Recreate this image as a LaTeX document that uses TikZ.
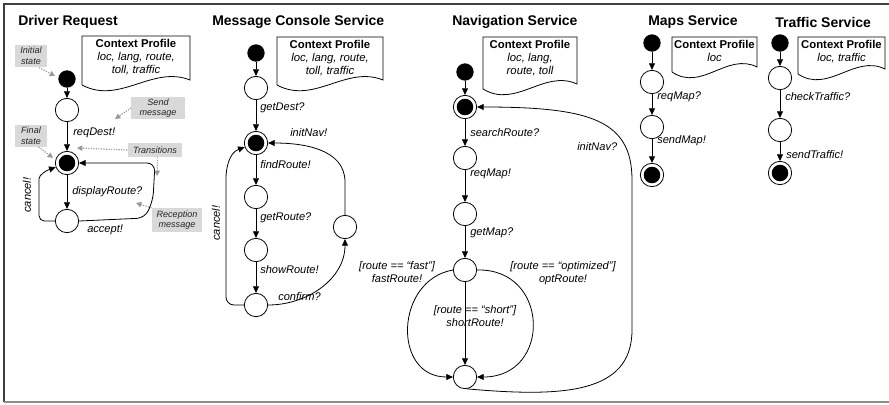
\documentclass[tikz,border=0pt]{standalone}
\usepackage{fontspec}
\setmainfont{Liberation Sans}
\usetikzlibrary{arrows.meta, positioning}

\tikzset{
  state/.style={circle, draw, line width=0.6pt, minimum size=17.5pt, inner sep=0pt},
  initdot/.style={circle, fill=black, minimum size=13pt, inner sep=0pt},
  finalst/.style={circle, draw, line width=0.6pt, minimum size=17.5pt, inner sep=0pt,
    path picture={\fill (path picture bounding box.center) circle (6.2pt);}},
  trans/.style={-{Triangle[length=5pt,width=4.5pt]}, line width=0.6pt},
  lbl/.style={font=\fontsize{8.3}{9.75}\selectfont\itshape, inner sep=0pt, anchor=west},
  guard/.style={font=\fontsize{8.3}{9.75}\selectfont\itshape, inner sep=0pt, align=center},
  title/.style={font=\fontsize{10.5}{12}\selectfont\bfseries, inner sep=0pt, anchor=west},
  doctext/.style={font=\fontsize{8.5}{10}\selectfont\itshape, inner sep=2pt, align=center, anchor=north},
  note/.style={fill=black!15, text=black!85, font=\fontsize{6.8}{8}\selectfont\itshape,
    align=center, inner sep=1pt},
  pointer/.style={densely dotted, black!40, line width=0.9pt, -{Triangle[length=4pt,width=4pt]}}
}

% context profile sheet: name, left, top, right, bottom, entries
\newcommand\profiledoc[6]{%
  \draw[line width=0.6pt] (#2,#5) -- (#2,#3) -- (#4,#3) -- (#4,#5-5)
    .. controls ({#4-0.35*(#4-#2)},#5-20) and ({#2+0.35*(#4-#2)},#5+20) .. (#2,#5);
  \node[doctext] (#1) at ({(#2+#4)/2},#3) {{\upshape\bfseries Context Profile}\\#6};}

\begin{document}
\begin{tikzpicture}[x=0.75pt, y=-0.75pt]
  \useasboundingbox (0,0) rectangle (889,404);
  % Frame
  \draw[black!75, line width=1.5pt] (889,4) -- (4,4) -- (4,402);
  \draw[black!45, line width=1.2pt] (4,402) -- (889,402);

  % Driver Request
  \node[title] (titleD) at (18,22) {Driver Request};
  \profiledoc{profD}{82}{36}{190}{85}{loc, lang, route,\\toll, traffic}
  \node[initdot] (dInit) at (67,79) {};
  \node[state] (dS1) at (67,110) {};
  \node[finalst] (dFin) at (67,163) {};
  \node[state] (dS2) at (67,221) {};
  \draw[trans] (dInit) -- (dS1);
  \draw[trans] (dS1) -- (dFin);
  \draw[trans] (dFin) -- (dS2);
  \draw[trans, rounded corners=4pt] (dS2.west) -- (39,221) -- (39,184) to[out=90,in=200] (dFin.200);
  \draw[trans, rounded corners=6pt] (dS2.east) -- (145,218) -- (153,200) -- (155,163) -- (dFin.east);
  \node[lbl] (lReqDest) at (73,133) {reqDest!};
  \node[lbl] (lDisplay) at (72,192) {displayRoute?};
  \node[lbl] (lAccept) at (87,230) {accept!};
  \node[lbl, rotate=90, anchor=center] (lCancelD) at (27,195) {cancel!};
  % notes
  \node[note, minimum width=24pt, minimum height=17pt] (annInit) at (31,56) {Initial\\state};
  \node[note, minimum width=40pt, minimum height=17pt] (annSend) at (158,108) {Send\\message};
  \node[note, minimum width=24pt, minimum height=16pt] (annFinal) at (31,136) {Final\\state};
  \node[note, minimum width=41pt, minimum height=10.5pt] (annTrans) at (155,150) {Transitions};
  \node[note, minimum width=38pt, minimum height=18pt] (annRecv) at (177,220) {Reception\\message};
  \coordinate (pInit) at (55,76);
  \coordinate (pSend) at (115,119);
  \coordinate (pFinal) at (53,158);
  \coordinate (pTrans) at (77,148);
  \coordinate (pLoop) at (157,176);
  \coordinate (pRecv) at (136,203);
  \draw[pointer] (annInit.-55) -- (pInit);
  \draw[pointer] (annSend.west) -- (pSend);
  \draw[pointer] (annFinal.-55) -- (pFinal);
  \draw[pointer] (annTrans.west) -- (pTrans);
  \draw[pointer] (annTrans.-70) -- (pLoop);
  \draw[pointer] (annRecv.north west) -- (pRecv);

  % Message Console Service
  \node[title] (titleC) at (212,22) {Message Console Service};
  \profiledoc{profC}{277}{37}{383}{85}{loc, lang, route,\\toll, traffic}
  \node[initdot] (cInit) at (256,53) {};
  \node[state] (cS1) at (256,88) {};
  \node[finalst] (cFin) at (256,143) {};
  \node[state] (cS2) at (256,197) {};
  \node[state] (cS3) at (256,250) {};
  \node[state] (cS4) at (256,305) {};
  \node[state] (cS5) at (345,227) {};
  \draw[trans] (cInit) -- (cS1);
  \draw[trans] (cS1) -- (cFin);
  \draw[trans] (cFin) -- (cS2);
  \draw[trans] (cS2) -- (cS3);
  \draw[trans] (cS3) -- (cS4);
  \draw[trans, rounded corners=6pt] (cS4.west) -- (226,305) -- (226,186) to[out=90,in=200] (cFin.200);
  \draw[trans] (cS4.east) to[out=0,in=270] (cS5.south);
  \draw[trans] (cS5.north) -- (345,182) to[out=90,in=0] (cFin.east);
  \node[lbl] (lGetDest) at (260,108) {getDest?};
  \node[lbl] (lInitNavC) at (290,133) {initNav!};
  \node[lbl] (lFind) at (260,165) {findRoute!};
  \node[lbl] (lGetRoute) at (260,218) {getRoute?};
  \node[lbl] (lShow) at (260,270) {showRoute!};
  \node[lbl] (lConfirm) at (278,297) {confirm?};
  \node[lbl, rotate=90, anchor=center] (lCancelC) at (216,223) {cancel!};

  % Navigation Service
  \node[title] (titleN) at (452,22) {Navigation Service};
  \profiledoc{profN}{483}{37}{577}{89}{loc, lang,\\route, toll}
  \node[initdot] (nInit) at (465,72) {};
  \node[finalst] (nFin) at (465,107) {};
  \node[state] (nS1) at (465,158) {};
  \node[state] (nS2) at (465,214) {};
  \node[state] (nS3) at (465,270) {};
  \node[state] (nS4) at (465,377) {};
  \draw[trans] (nInit) -- (nFin);
  \draw[trans] (nFin) -- (nS1);
  \draw[trans] (nS1) -- (nS2);
  \draw[trans] (nS2) -- (nS3);
  \draw[trans] (nS3) -- (nS4);
  \draw[trans] (nS3.west) .. controls (395,280) and (392,377) .. (nS4.west);
  \draw[trans] (nS3.east) .. controls (550,268) and (552,377) .. (nS4.east);
  \draw[trans] (nS4.280) .. controls (560,397) and (632,395) .. (632,330) -- (632,180)
    .. controls (632,120) and (590,107) .. (nFin.east);
  \node[lbl] (lSearch) at (470,133) {searchRoute?};
  \node[lbl] (lReqMapN) at (470,174) {reqMap!};
  \node[lbl] (lGetMap) at (470,233) {getMap?};
  \node[lbl] (lInitNavN) at (577,147) {initNav?};
  \node[guard] (gFast) at (397,272) {[route == ``fast'']\\fastRoute!};
  \node[guard] (gShort) at (475,316) {[route == ``short'']\\shortRoute!};
  \node[guard] (gOpt) at (563,273) {[route == ``optimized'']\\optRoute!};

  % Maps Service
  \node[title] (titleM) at (648,22) {Maps Service};
  \profiledoc{profM}{672}{37}{757}{72}{loc}
  \node[initdot] (mInit) at (652,43) {};
  \node[state] (mS1) at (652,82) {};
  \node[state] (mS2) at (652,127) {};
  \node[finalst] (mFin) at (652,175) {};
  \draw[trans] (mInit) -- (mS1);
  \draw[trans] (mS1) -- (mS2);
  \draw[trans] (mS2) -- (mFin);
  \node[lbl] (lReqMapM) at (657,97) {reqMap?};
  \node[lbl] (lSendMap) at (657,141) {sendMap!};

  % Traffic Service
  \node[title] (titleT) at (775,22) {Traffic Service};
  \profiledoc{profT}{798}{37}{885}{74}{loc, traffic}
  \node[initdot] (tInit) at (780,43) {};
  \node[state] (tS1) at (780,78) {};
  \node[state] (tS2) at (780,130) {};
  \node[finalst] (tFin) at (780,173) {};
  \draw[trans] (tInit) -- (tS1);
  \draw[trans] (tS1) -- (tS2);
  \draw[trans] (tS2) -- (tFin);
  \node[lbl] (lCheck) at (785,97) {checkTraffic?};
  \node[lbl] (lSendTraffic) at (786,155) {sendTraffic!};
\end{tikzpicture}
\end{document}
